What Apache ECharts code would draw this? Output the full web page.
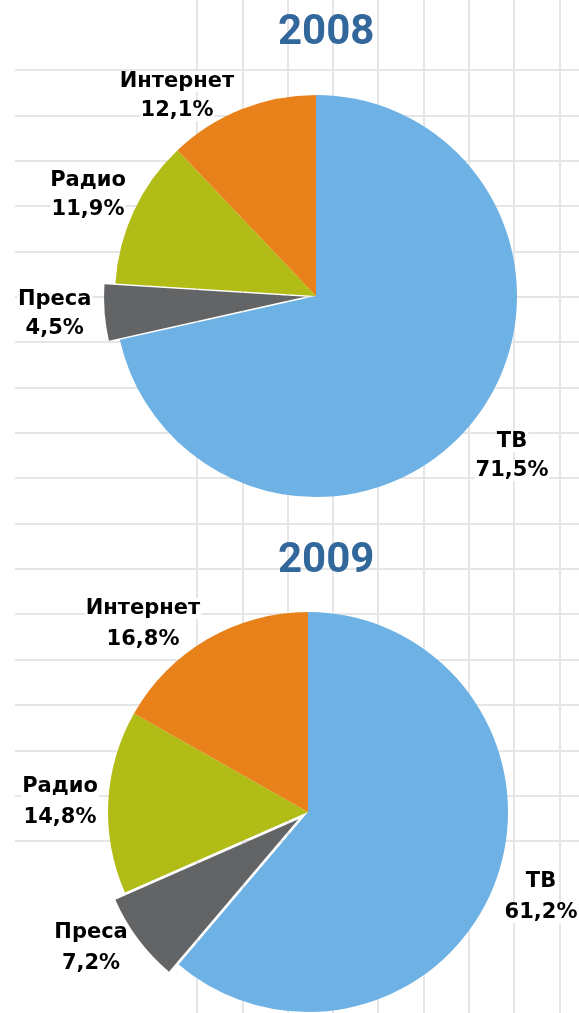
<!DOCTYPE html>
<html>
<head>
<meta charset="utf-8">
<title>Реклама 2008 / 2009</title>
<script src="https://cdn.jsdelivr.net/npm/echarts@6/dist/echarts.min.js"></script>
<style>
html, body { margin: 0; padding: 0; background: #fff; }
#chart { width: 579px; height: 1013px; }
</style>
</head>
<body>
<div id="chart"></div>
<script>
//----- data
var categories = ['ТВ', 'Преса', 'Радио', 'Интернет'];
var years = ['2008', '2009'];
var share2008 = [71.5, 4.5, 11.9, 12.1];
var share2009 = [61.2, 7.2, 14.8, 16.8];
var exploded = 'Преса';

//----- look
var colors = ['#6eb1e4', '#636466', '#b2bc16', '#e8811a'];
var gridColor = '#e6e6e6';
// label centres per slice (layout only)
var labelPos2008 = [[512, 456], [53, 312], [88, 195], [177, 96]];
var labelPos2009 = [[541, 897], [88, 974], [60, 802], [143, 624]];

function fmt(v) {
	return v.toFixed(1).replace('.', ',') + '%';
}

// noBox: slice names whose label needs no white box (no gridlines behind it)
function pieSeries(values, center, radius, offset, labelPos, lineH, noBox) {
	var line = {
		color: '#000',
		fontFamily: 'DejaVu Sans',
		fontWeight: 'bold',
		fontSize: 21,
		lineHeight: lineH,
		align: 'center',
		backgroundColor: '#fff',
		padding: [0, 1]
	};
	var bare = echarts.util.extend({}, line);
	bare.backgroundColor = 'transparent';
	return {
		type: 'pie',
		center: center,
		radius: radius,
		startAngle: 90,
		clockwise: true,
		selectedMode: 'multiple',
		selectedOffset: offset,
		avoidLabelOverlap: false,
		z: 5,
		itemStyle: { borderWidth: 0 },
		data: categories.map(function (name, i) {
			return { name: name, value: values[i], selected: name === exploded };
		}),
		label: {
			show: true,
			position: 'outside',
			formatter: function (p) {
				var s = noBox.indexOf(p.name) >= 0 ? 'b' : 'n';
				return '{' + s + '|' + p.name + '}\n{' + s + '|' + fmt(p.value) + '}';
			},
			align: 'center',
			rich: { n: line, b: bare }
		},
		labelLine: { show: false },
		labelLayout: function (p) {
			var c = labelPos[p.dataIndex];
			return { x: c[0], y: c[1], align: 'center', verticalAlign: 'middle' };
		},
		emphasis: { disabled: true }
	};
}

var myChart = echarts.init(document.getElementById('chart'));

var hidden = { show: false };
var titleStyle = { fontFamily: 'Roboto', fontWeight: 'bold', fontSize: 42, color: '#32679b' };
var option = {
	animation: false,
	color: colors,
	title: [
		{ text: years[0], left: 273, top: 7, textStyle: titleStyle },
		{ text: years[1], left: 273, top: 535, textStyle: titleStyle }
	],
	// sheet gridlines behind the charts (rows stop at ~841px)
	grid: [
		{ left: 15, right: 0, top: 70, height: 771 },
		{ left: 197, top: 0, bottom: 0, width: 362.4 }
	],
	xAxis: [
		{ gridIndex: 0, type: 'value', min: 0, max: 1, axisLine: hidden, axisTick: hidden, axisLabel: hidden, splitLine: hidden },
		{ gridIndex: 1, type: 'value', min: 0, max: 8, interval: 1, axisLine: hidden, axisTick: hidden, axisLabel: hidden,
		  splitLine: { show: true, lineStyle: { color: gridColor, width: 2 } } }
	],
	yAxis: [
		{ gridIndex: 0, type: 'value', min: 0, max: 17, interval: 1, axisLine: hidden, axisTick: hidden, axisLabel: hidden,
		  splitLine: { show: true, lineStyle: { color: gridColor, width: 2 } } },
		{ gridIndex: 1, type: 'value', min: 0, max: 1, axisLine: hidden, axisTick: hidden, axisLabel: hidden, splitLine: hidden }
	],
	series: [
		pieSeries(share2008, [316, 296], 201, 11, labelPos2008, 29, []),
		pieSeries(share2009, [308, 812], 200, 12, labelPos2009, 31, ['Преса'])
	]
};

if (option && typeof option === "object") {
	myChart.setOption(option, true);
}
</script>
</body>
</html>
